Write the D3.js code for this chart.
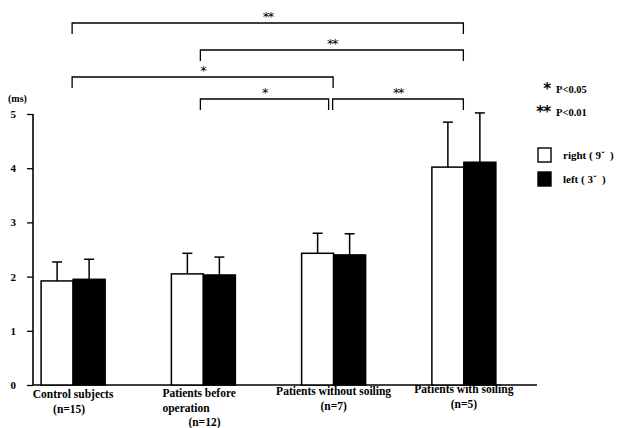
<!DOCTYPE html>
<html><head><meta charset="utf-8">
<script src="https://cdn.jsdelivr.net/npm/d3@7"></script>
<style>
body{margin:0;background:#fff}
svg{display:block;font-family:"Liberation Serif","Times New Roman",serif}
text{fill:#000}
</style></head>
<body>
<svg id="c" width="638" height="428"></svg>
<script>
const categories = ["Control subjects","Patients before operation","Patients without soiling","Patients with soiling"];
const categoryLines = [["Control subjects","(n=15)"],["Patients before","operation","(n=12)"],["Patients without soiling","(n=7)"],["Patients with soiling","(n=5)"]];
const seriesNames = ["right","left"];
const rightMean = [1.92, 2.05, 2.43, 4.02];
const rightSD   = [0.35, 0.38, 0.37, 0.83];
const leftMean  = [1.95, 2.03, 2.40, 4.11];
const leftSD    = [0.37, 0.33, 0.39, 0.91];
const yTicks = [0,1,2,3,4,5];
// significance brackets: [fromGroup, toGroup, label, level]
const brackets = [[0,3,"**",3],[1,3,"**",2],[0,2,"*",1],[1,2,"*",0],[2,3,"**",0]];
const legendSig = [["*","P<0.05"],["**","P<0.01"]];
const legendSeries = [["right\u00A0(\u00A09\u02C7\u00A0\u00A0)","#fff"],["left\u00A0(\u00A03\u02C7\u00A0\u00A0)","#000"]];

const svg = d3.select("#c");
const y = d3.scaleLinear().domain([0,5]).range([385,114]);
const x = d3.scaleBand().domain(categories).range([8,529]).padding(0);
const x1 = d3.scaleBand().domain(seriesNames).range([-32,32]);
const cx = i => x(categories[i]) + x.bandwidth()/2;

// axes
const yAxis = svg.append("g").attr("transform","translate(33,0)")
  .call(d3.axisLeft(y).tickValues(yTicks).tickSize(6).tickPadding(11).tickFormat(d3.format("d")));
yAxis.select(".domain").attr("stroke-width",1.6).attr("d","M0,"+y(5)+"V"+y(0));
yAxis.selectAll(".tick line").attr("stroke-width",1.3);
yAxis.selectAll(".tick text").attr("font-size",11).attr("font-weight","bold").attr("font-family","Liberation Serif");

svg.append("line").attr("x1",33).attr("x2",537).attr("y1",y(0)).attr("y2",y(0)).attr("stroke","#000").attr("stroke-width",1.6);
svg.append("text").attr("x",8).attr("y",102).attr("font-size",10).attr("font-weight","bold").text("(ms)");

// bars
const data = categories.map((c,i)=>[
  {c, s:"right", m:rightMean[i], sd:rightSD[i], fill:"#fff"},
  {c, s:"left", m:leftMean[i], sd:leftSD[i], fill:"#000"}]).flat();
const g = svg.append("g");
g.selectAll("rect").data(data).join("rect")
  .attr("x", d=>x(d.c)+x.bandwidth()/2+x1(d.s))
  .attr("width", x1.bandwidth())
  .attr("y", d=>y(d.m)).attr("height", d=>y(0)-y(d.m))
  .attr("fill", d=>d.fill).attr("stroke","#000").attr("stroke-width",1.5);
const eb = g.selectAll("g.eb").data(data).join("g").attr("class","eb")
  .attr("transform", d=>`translate(${x(d.c)+x.bandwidth()/2+x1(d.s)+x1.bandwidth()/2},0)`);
eb.append("line").attr("x1",0).attr("x2",0).attr("y1",d=>y(d.m)).attr("y2",d=>y(d.m+d.sd)).attr("stroke","#000").attr("stroke-width",1.5);
eb.append("line").attr("x1",-5).attr("x2",5).attr("y1",d=>y(d.m+d.sd)).attr("y2",d=>y(d.m+d.sd)).attr("stroke","#000").attr("stroke-width",1.5);

// category labels
const labTops = [398,397,395,393];
categoryLines.forEach((lines,i)=>{
  const t = svg.append("text").attr("font-size",11.5).attr("font-weight","bold");
  lines.forEach((l,j)=>{
    let xx = cx(i), anchor="middle";
    if(i===1){ xx = cx(1)-41; anchor="start"; if(j===2){xx=cx(1)-15;} }
    t.append("tspan").attr("x",xx).attr("y",labTops[i]+j*14.5).attr("text-anchor",anchor).text(l);
  });
  if(i===0) t.selectAll("tspan").filter((d,j,n)=>j===1).attr("x",cx(0)-4);
});

// brackets
const levelY = [99,77,50,23];
brackets.forEach(([a,b,lab,lv])=>{
  let xa = cx(a)-3, xb = cx(b)-0.5;
  if(lv===0 && b===2) xb = cx(2)-5;
  if(lv===0 && a===2) xa = cx(2)-1;
  if(a===0) xa = cx(0)-1;
  const yy = levelY[lv];
  const leg = 11;
  svg.append("path").attr("d",`M${xa},${yy+leg}V${yy}H${xb}V${yy+leg}`)
    .attr("fill","none").attr("stroke","#000").attr("stroke-width",1.3);
  svg.append("text").attr("x",(xa+xb)/2).attr("y",yy-2).attr("text-anchor","middle")
    .attr("font-size",13).attr("letter-spacing",-1.5).attr("font-family","DejaVu Sans").text(lab);
});

// significance legend
legendSig.forEach(([s,t],i)=>{
  const yy = 93 + i*23;
  svg.append("text").attr("x",550).attr("y",yy+1).attr("text-anchor","end").attr("font-size",15).attr("font-weight","bold").attr("letter-spacing",-1).attr("font-family","DejaVu Sans").text(s);
  svg.append("text").attr("x",556).attr("y",yy).attr("font-size",10.5).attr("font-weight","bold").text(t);
});
// series legend
legendSeries.forEach(([t,f],i)=>{
  const yy = 148 + i*24;
  svg.append("rect").attr("x",538).attr("y",yy).attr("width",13).attr("height",14).attr("fill",f).attr("stroke","#000").attr("stroke-width",1.4);
  svg.append("text").attr("x",563).attr("y",yy+11).attr("font-size",11).attr("font-weight","bold").attr("xml:space","preserve").text(t);
});
</script>
</body></html>
